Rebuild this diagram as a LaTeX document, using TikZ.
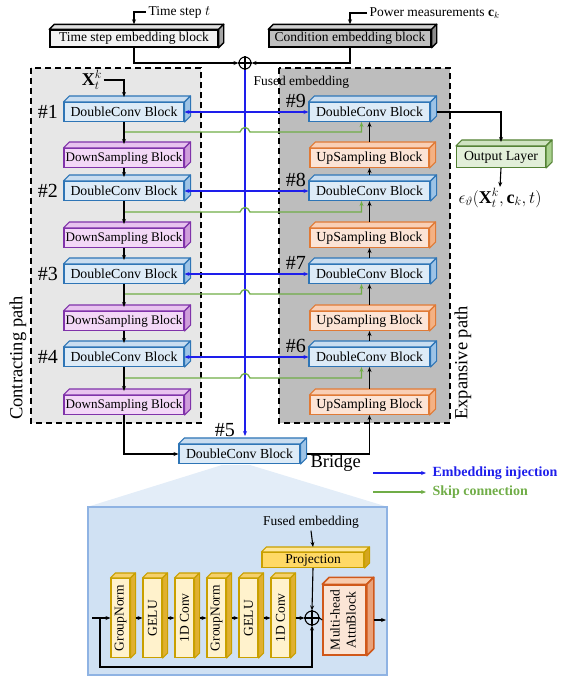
\documentclass[tikz,border=0pt]{standalone}
\usepackage{fontspec}
\setmainfont{Liberation Serif}
\usetikzlibrary{arrows.meta,positioning}

\definecolor{injblue}{RGB}{30,30,235}
\definecolor{skipgreen}{HTML}{70AD47}
\definecolor{leftgray}{HTML}{E7E7E7}
\definecolor{rightgray}{HTML}{BDBDBD}
\definecolor{dcfront}{HTML}{DDEBF7}
\definecolor{dctop}{HTML}{C9DDF0}
\definecolor{dcside}{HTML}{9DC3E6}
\definecolor{dcline}{HTML}{2E75B6}
\definecolor{dsfront}{HTML}{F3D8F7}
\definecolor{dstop}{HTML}{E8C3EF}
\definecolor{dsside}{HTML}{CF9DDB}
\definecolor{dsline}{HTML}{8033AA}
\definecolor{usfront}{HTML}{FCE4D6}
\definecolor{ustop}{HTML}{F9CFB5}
\definecolor{usside}{HTML}{F4B183}
\definecolor{usline}{HTML}{E07A36}
\definecolor{olfront}{HTML}{E2EFD9}
\definecolor{oltop}{HTML}{CFE3C1}
\definecolor{olside}{HTML}{A9D18E}
\definecolor{olline}{HTML}{548235}
\definecolor{lyfront}{HTML}{FFF2CC}
\definecolor{lytop}{HTML}{F5D06A}
\definecolor{lyside}{HTML}{E0B030}
\definecolor{lyline}{HTML}{C9A000}
\definecolor{pjfront}{HTML}{FFD966}
\definecolor{pjtop}{HTML}{FFE699}
\definecolor{pjside}{HTML}{D4A520}
\definecolor{atfront}{HTML}{FBE5D6}
\definecolor{attop}{HTML}{F8CBAD}
\definecolor{atside}{HTML}{E9A27A}
\definecolor{atline}{HTML}{D0581A}
\definecolor{zoomfill}{HTML}{E3EDF8}
\definecolor{detailfill}{HTML}{D0E1F3}
\definecolor{detailline}{HTML}{8FB3E3}

\newcommand{\blkfont}{\fontsize{13.8}{15}\selectfont}
\newcommand{\dsfont}{\fontsize{13.1}{15}\selectfont}
\newcommand{\txtfont}{\fontsize{13.5}{16}\selectfont}
\newcommand{\idxfont}{\fontsize{20}{22}\selectfont}
\newcommand{\bigfont}{\fontsize{18.5}{21}\selectfont}

% top and side faces of a block: [depth]{node}{style}
\newcommand{\blockfaces}[3][6]{%
  \filldraw[#3 top] (#2.north west) -- ++(#1,-#1) -- ([shift={(#1,-#1)}]#2.north east) -- (#2.north east) -- cycle;
  \filldraw[#3 side] (#2.north east) -- ++(#1,-#1) -- ([shift={(#1,-#1)}]#2.south east) -- (#2.south east) -- cycle;
}

\tikzset{
  face/.style n args={2}{fill=#1,draw=#2,line width=1.1pt,line join=round},
  blk/.style={draw,line width=1.1pt,inner sep=0pt,minimum height=19pt,font=\blkfont},
  dc/.style={blk,fill=dcfront,draw=dcline,minimum width=120pt},
  dc top/.style={face={dctop}{dcline}},
  dc side/.style={face={dcside}{dcline}},
  ds/.style={blk,fill=dsfront,draw=dsline,minimum width=120pt,font=\dsfont},
  ds top/.style={face={dstop}{dsline}},
  ds side/.style={face={dsside}{dsline}},
  us/.style={blk,fill=usfront,draw=usline,minimum width=119pt},
  us top/.style={face={ustop}{usline}},
  us side/.style={face={usside}{usline}},
  ol/.style={blk,fill=olfront,draw=olline,minimum width=89pt,minimum height=21pt},
  ol top/.style={face={oltop}{olline}},
  ol side/.style={face={olside}{olline}},
  tb/.style={blk,fill=black!5,draw=black,minimum width=168pt,minimum height=17pt,font=\txtfont,line width=1.4pt},
  tb top/.style={face={black!12}{black},line width=1.4pt},
  tb side/.style={face={black!35}{black},line width=1.4pt},
  cb/.style={blk,fill=black!25,draw=black,minimum width=162pt,minimum height=17pt,font=\txtfont,line width=1.4pt},
  cb top/.style={face={black!18}{black},line width=1.4pt},
  cb side/.style={face={black!45}{black},line width=1.4pt},
  ly/.style={blk,fill=lyfront,draw=lyline,minimum width=19pt,minimum height=79pt,font=\txtfont},
  ly top/.style={face={lytop}{lyline}},
  ly side/.style={face={lyside}{lyline}},
  pj/.style={blk,fill=pjfront,draw=lyline,minimum width=102pt,minimum height=15pt,font=\txtfont},
  pj top/.style={face={pjtop}{lyline}},
  pj side/.style={face={pjside}{lyline}},
  attn/.style={blk,fill=atfront,draw=atline,minimum width=43pt,minimum height=70pt,font=\txtfont,line width=1.5pt},
  attn top/.style={face={attop}{atline},line width=1.5pt},
  attn side/.style={face={atside}{atline},line width=1.5pt},
  region/.style={dash pattern=on 6pt off 4pt,line width=1.3pt},
  inj/.style={draw=injblue,line width=1.3pt},
  skip/.style={draw=skipgreen,line width=1.3pt},
  idx/.style={font=\idxfont,inner sep=1pt},
  path label/.style={font=\bigfont,inner sep=1pt},
  label text/.style={font=\txtfont,inner sep=2pt},
  math label/.style={font=\fontsize{18}{20}\selectfont,inner sep=1pt},
  legend text/.style={font=\fontsize{14}{16}\selectfont\bfseries,inner sep=2pt},
}

\begin{document}
\begin{tikzpicture}[x=1pt,y=-1pt,>={Stealth[length=5pt,width=4pt]},line width=1.1pt]
\useasboundingbox (0,0) rectangle (565,680);

% Path regions
\draw[region,fill=leftgray] (31,68) rectangle (201,423);
\draw[region,fill=rightgray] (279,68) rectangle (450,423);
\node[path label,rotate=90] (cpath) at (18,358) {Contracting path};
\node[path label,rotate=90] (epath) at (463,363) {Expansive path};

% Zoomed view of the bridge
\fill[zoomfill] (222,465) -- (250,465) -- (388,507) -- (87,507) -- cycle;
\draw[draw=detailline,fill=detailfill,line width=1.6pt] (88,507) rectangle (387,675);

% Embedding blocks
\node[tb] (temb) at (134,38.5) {Time step embedding block};
\node[cb] (cemb) at (350,38.5) {Condition embedding block};
\blockfaces[5]{temb}{tb}
\blockfaces[5]{cemb}{cb}
\node[label text,anchor=west] (tlabel) at (146,12) {Time step $t$};
\node[label text,anchor=west] (plabel) at (367,13) {Power measurements $\mathbf{c}_k$};
\node[circle,draw,minimum size=12pt,inner sep=0pt] (plus) at (245,63) {};
\draw (plus.north) -- (plus.south) (plus.west) -- (plus.east);
\draw[->] (tlabel.west) -| ([yshift=5pt]temb.north);
\draw[->] (plabel.west) -| ([yshift=5pt]cemb.north);
\draw[->] (temb.south) |- (plus.west);
\draw[->] (cemb.south) |- (plus.east);
\node[label text,anchor=west] (fused) at (251,82) {Fused embedding};

% Contracting path
\foreach \n/\y in {1/112,2/191,3/274,4/357} {
  \node[dc] (dc\n) at (124,\y) {DoubleConv Block};
  \node[idx,left=4pt of dc\n] (lab\n) {\#\n};
  \blockfaces{dc\n}{dc}
}
\foreach \n/\y in {1/158,2/238,3/321,4/405} {
  \node[ds] (ds\n) at (124,\y) {DownSampling Block};
  \blockfaces{ds\n}{ds}
}

% Expansive path
\foreach \n/\y in {9/112,8/191,7/274,6/357} {
  \node[dc,minimum width=121pt] (dc\n) at (369.5,\y) {DoubleConv Block};
  \node[idx,anchor=east] (lab\n) at ([xshift=-1pt,yshift=11pt]dc\n.west) {\#\n};
  \blockfaces{dc\n}{dc}
}
\foreach \n/\y in {4/158,3/238,2/321,1/405} {
  \node[us] (us\n) at (369.5,\y) {UpSampling Block};
  \blockfaces{us\n}{us}
}

% Bridge
\node[dc,minimum width=121pt] (bridge) at (239.5,454) {DoubleConv Block};
\blockfaces{bridge}{dc}
\node[idx,anchor=south east] (lab5) at ([xshift=-3pt,yshift=6pt]bridge.north) {\#5};
\node[path label,anchor=west] (blabel) at (309,463) {Bridge};

% Input and output
\node[math label] (xin) at (92,80) {$\mathbf{X}_t^k$};
\draw[->] (xin.east) -| ([yshift=5pt]dc1.north);
\node[ol] (outl) at (501,157) {Output Layer};
\blockfaces{outl}{ol}
\draw[->] ([xshift=6pt]dc9.east) -| ([yshift=4pt]outl.north);
\node[math label] (eps) at (500,198) {$\epsilon_\vartheta(\mathbf{X}_t^k,\mathbf{c}_k,t)$};
\draw[->] (outl.south) -- (eps.north);

% Embedding injection
\coordinate (fusedend) at (245,436);
\draw[inj,->] (plus.south) -- (fusedend);
\foreach \a/\b in {dc1/dc9,dc2/dc8,dc3/dc7,dc4/dc6}
  \draw[inj,<->] (\a.east) -- (\b.west);

% Skip connections
\foreach \a/\b/\y in {dc1/dc9/132,dc2/dc8/212,dc3/dc7/294,dc4/dc6/378}
  \draw[skip,->] (\a.south) |- (240,\y) .. controls (242,\y-6) and (248,\y-6) .. (250,\y) -| ([xshift=-8pt]\b.south);

% Data flow
\foreach \a/\b in {dc1/ds1,ds1/dc2,dc2/ds2,ds2/dc3,dc3/ds3,ds3/dc4,dc4/ds4}
  \draw[->] (\a.south) -- ([yshift=4pt]\b.north);
\draw[->] (ds4.south) |- (bridge.west);
\draw[->] ([xshift=6pt]bridge.east) -| (us1.south);
\foreach \a/\b in {us1/dc6,dc6/us2,us2/dc7,dc7/us3,us3/dc8,dc8/us4,us4/dc9}
  \draw[->] ([yshift=6pt]\a.north) -- (\b.south);

% Legend
\coordinate (lg1) at (373,473);
\coordinate (lg2) at (373,492);
\node[legend text,text=injblue,anchor=west] (lgt1) at (430,473) {Embedding injection};
\node[legend text,text=skipgreen,anchor=west] (lgt2) at (430,492) {Skip connection};
\draw[inj,->] (lg1) -- ([xshift=-4pt]lgt1.west);
\draw[skip,->] (lg2) -- ([xshift=-4pt]lgt2.west);

% Bridge detail
\node[label text] (fused2) at (311,522) {Fused embedding};
\node[pj] (proj) at (313,560) {Projection};
\blockfaces[5]{proj}{pj}
\draw[->] (fused2.south) -- ([yshift=5pt]proj.north);
\foreach \i/\t in {1/GroupNorm,2/GELU,3/1D Conv,4/GroupNorm,5/GELU,6/1D Conv} {
  \node[ly] (ly\i) at ({88.5+32*\i},618) {\rotatebox{90}{\t}};
  \blockfaces[5]{ly\i}{ly}
}
\node[circle,draw,minimum size=14pt,inner sep=0pt] (plus2) at (312,618) {};
\draw (plus2.north) -- (plus2.south) (plus2.west) -- (plus2.east);
\node[attn] (att) at (344.5,620) {\rotatebox{90}{\begin{tabular}{@{}c@{}}Multi-head\\AttnBlock\end{tabular}}};
\blockfaces[7]{att}{attn}
\coordinate (din) at (92,618);
\coordinate (fork) at (100,618);
\coordinate (low) at (100,667);
\coordinate (dout) at (386,620);
\draw[->] (din) -- (ly1.west);
\foreach \a/\b in {1/2,2/3,3/4,4/5,5/6}
  \draw[->] ([xshift=5pt]ly\a.east) -- (ly\b.west);
\draw[->] ([xshift=5pt]ly6.east) -- (plus2.west);
\draw[->] (proj.south) -- (plus2.north);
\draw[->] (fork) -- (low) -| (plus2.south);
\draw (plus2.east) -- (att.west);
\draw[->] ([xshift=7pt]att.east) -- (dout);
\end{tikzpicture}
\end{document}
